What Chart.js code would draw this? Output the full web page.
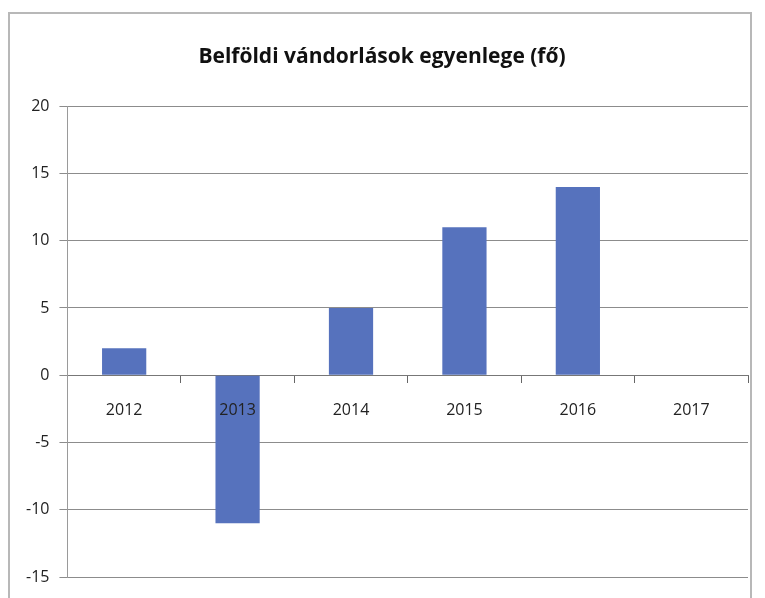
<!DOCTYPE html>
<html>
<head>
<meta charset="utf-8">
<script src="https://cdn.jsdelivr.net/npm/chart.js@4.4.1/dist/chart.umd.min.js"></script>
<style>
    html, body { margin: 0; padding: 0; background: #fff; overflow: hidden; }
    #frame {
        position: absolute;
        left: 8px;
        top: 12px;
        width: 744px;
        height: 600px;
        border: 2px solid #b8b8b8;
        box-sizing: border-box;
    }
</style>
</head>
<body>
<div id="frame"><canvas id="migrationChart"></canvas></div>
<script>
// Adatok
const years = ['2012', '2013', '2014', '2015', '2016', '2017'];
const balance = [2, -11, 5, 11, 14, 0];
const yTicks = [-15, -10, -5, 0, 5, 10, 15, 20];

const fontFamily = "'Open Sans', 'Noto Sans', sans-serif";

function initMigrationChart() {
    const canvas = document.getElementById('migrationChart');
    const ctx = canvas.getContext('2d');

    return new Chart(ctx, {
        type: 'bar',
        data: {
            labels: years,
            datasets: [{
                data: balance,
                backgroundColor: '#5672bd',
                borderWidth: 0,
                categoryPercentage: 1,
                barPercentage: 0.39
            }]
        },
        options: {
            responsive: true,
            maintainAspectRatio: false,
            animation: false,
            layout: {
                padding: { left: 6, right: 2, top: 0, bottom: 33 }
            },
            plugins: {
                legend: { display: false },
                tooltip: { enabled: false },
                title: {
                    display: true,
                    text: 'Belföldi vándorlások egyenlege (fő)',
                    color: '#111',
                    font: { family: fontFamily, size: 21, weight: 'bold' },
                    padding: { top: 30, bottom: 37 }
                }
            },
            scales: {
                x: {
                    position: { y: 0 },
                    offset: true,
                    grid: {
                        display: true,
                        offset: true,
                        drawOnChartArea: false,
                        drawTicks: true,
                        tickLength: 7,
                        color: '#666'
                    },
                    border: { display: true, color: '#777', width: 1 },
                    ticks: {
                        z: 1,
                        color: '#222',
                        padding: 19,
                        font: { family: fontFamily, size: 16 }
                    }
                },
                y: {
                    min: yTicks[0],
                    max: yTicks[yTicks.length - 1],
                    afterBuildTicks: function(scale) {
                        scale.ticks = yTicks.map(v => ({ value: v }));
                    },
                    grid: {
                        color: '#8c8c8c',
                        lineWidth: 1,
                        tickLength: 8
                    },
                    border: { display: true, color: '#9a9a9a', width: 1 },
                    ticks: {
                        color: '#222',
                        padding: 10,
                        font: { family: fontFamily, size: 16 }
                    }
                }
            }
        }
    });
}

initMigrationChart();
</script>
</body>
</html>
